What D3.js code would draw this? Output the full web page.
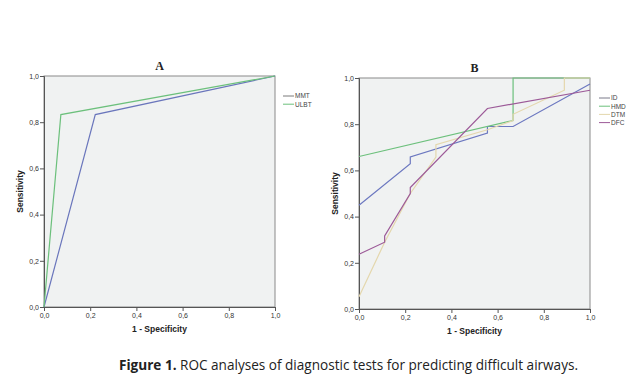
<!DOCTYPE html>
<html><head><meta charset="utf-8">
<script src="https://cdn.jsdelivr.net/npm/d3@7"></script>
<style>body{margin:0;background:#fff;} svg{display:block;}</style>
</head><body>
<svg id="c" width="635" height="392"></svg>
<script>
const ticks = [0, 0.2, 0.4, 0.6, 0.8, 1.0];
const tickLabels = ["0,0","0,2","0,4","0,6","0,8","1,0"];

// Panel A
const mmtX = [0, 0.222, 1];
const mmtY = [0, 0.833, 1];
const ulbtX = [0, 0.073, 1];
const ulbtY = [0, 0.833, 1];

// Panel B
const idX = [0, 0.222, 0.222, 0.556, 0.556, 0.667, 1];
const idY = [0.449, 0.629, 0.658, 0.762, 0.790, 0.790, 0.974];
const hmdX = [0, 0.667, 0.667, 1];
const hmdY = [0.660, 0.816, 1, 1];
const dtmX = [0, 0.111, 0.222, 0.333, 0.333, 0.556, 0.667, 0.667, 0.889, 0.889, 1];
const dtmY = [0.053, 0.289, 0.50, 0.658, 0.711, 0.776, 0.816, 0.843, 0.947, 1, 1];
const dfcX = [0, 0.111, 0.111, 0.222, 0.222, 0.556, 1];
const dfcY = [0.237, 0.289, 0.316, 0.50, 0.526, 0.868, 0.947];

const panels = [
  {title:"A", x0:44, x1:275, y0:307, y1:76, legendX:283, legendY:96,
   series:[{name:"MMT", xs:mmtX, ys:mmtY, color:"#6a76bc"},
           {name:"ULBT", xs:ulbtX, ys:ulbtY, color:"#6cc07c"}]},
  {title:"B", x0:359, x1:590, y0:309, y1:78, legendX:599, legendY:98,
   series:[{name:"ID", xs:idX, ys:idY, color:"#6c78c0"},
           {name:"HMD", xs:hmdX, ys:hmdY, color:"#6cc07c"},
           {name:"DTM", xs:dtmX, ys:dtmY, color:"#e4d7ad"},
           {name:"DFC", xs:dfcX, ys:dfcY, color:"#9c5a98"}]}
];

const svg = d3.select("#c");
const fmt = d => tickLabels[ticks.findIndex(t => Math.abs(t-d)<1e-9)];

panels.forEach(p => {
  const x = d3.scaleLinear().domain([0,1]).range([p.x0, p.x1]);
  const y = d3.scaleLinear().domain([0,1]).range([p.y0, p.y1]);
  const g = svg.append("g");
  g.append("rect").attr("x",p.x0).attr("y",p.y1).attr("width",p.x1-p.x0).attr("height",p.y0-p.y1)
    .attr("fill","#f0f2f2").attr("stroke","#8a8a8a").attr("stroke-width",1);
  const xa = g.append("g").attr("transform",`translate(0,${p.y0})`)
    .call(d3.axisBottom(x).tickValues(ticks).tickFormat(fmt).tickSize(4).tickPadding(2));
  const ya = g.append("g").attr("transform",`translate(${p.x0},0)`)
    .call(d3.axisLeft(y).tickValues(ticks).tickFormat(fmt).tickSize(4).tickPadding(1));
  [xa,ya].forEach(a=>{
    a.selectAll("path").attr("stroke","#555");
    a.selectAll("line").attr("stroke","#555");
    a.selectAll("text").attr("font-family","Liberation Sans, Arial, sans-serif").attr("font-size",7).attr("fill","#333");
  });
  const line = d3.line().x(d=>x(d[0])).y(d=>y(d[1]));
  p.series.forEach(s => {
    const pts = s.xs.map((v,i)=>[v, s.ys[i]]);
    g.append("path").datum(pts).attr("d",line).attr("fill","none")
      .attr("stroke",s.color).attr("stroke-width",1.2);
  });
  // legend
  p.series.forEach((s,i) => {
    const ly = p.legendY + i*8.2;
    g.append("line").attr("x1",p.legendX).attr("x2",p.legendX+11).attr("y1",ly).attr("y2",ly)
      .attr("stroke", i===0 && p.title==="A" ? "#7a7a7a" : (p.title==="B" && i===0 ? "#7a7a8a" : s.color)).attr("stroke-width",1);
    g.append("text").attr("x",p.legendX+12).attr("y",ly+2.3).text(s.name)
      .attr("font-family","Liberation Sans, Arial, sans-serif").attr("font-size",6.5).attr("fill","#444");
  });
  // title
  g.append("text").attr("x",(p.x0+p.x1)/2).attr("y",p.y1-6).attr("text-anchor","middle")
    .attr("font-family","Liberation Serif, Times New Roman, serif").attr("font-weight","bold")
    .attr("font-size",12).attr("fill","#222").text(p.title);
  // axis titles
  g.append("text").attr("x",(p.x0+p.x1)/2).attr("y",p.y0+25).attr("text-anchor","middle")
    .attr("font-family","Liberation Sans, Arial, sans-serif").attr("font-weight","bold")
    .attr("font-size",8.5).attr("fill","#222").text("1 - Specificity");
  g.append("text").attr("transform",`translate(${p.x0-21},${(p.y0+p.y1)/2}) rotate(-90)`).attr("text-anchor","middle")
    .attr("font-family","Liberation Sans, Arial, sans-serif").attr("font-weight","bold")
    .attr("font-size",8.5).attr("fill","#222").text("Sensitivity");
});

const cap = svg.append("text").attr("x",119).attr("y",370)
  .attr("font-family","Open Sans, Noto Sans, sans-serif").attr("font-size",14).attr("fill","#222");
cap.append("tspan").attr("font-weight","bold").text("Figure 1.");
cap.append("tspan").text(" ROC analyses of diagnostic tests for predicting difficult airways.");
cap.attr("textLength",459).attr("lengthAdjust","spacingAndGlyphs");
</script>
</body></html>
